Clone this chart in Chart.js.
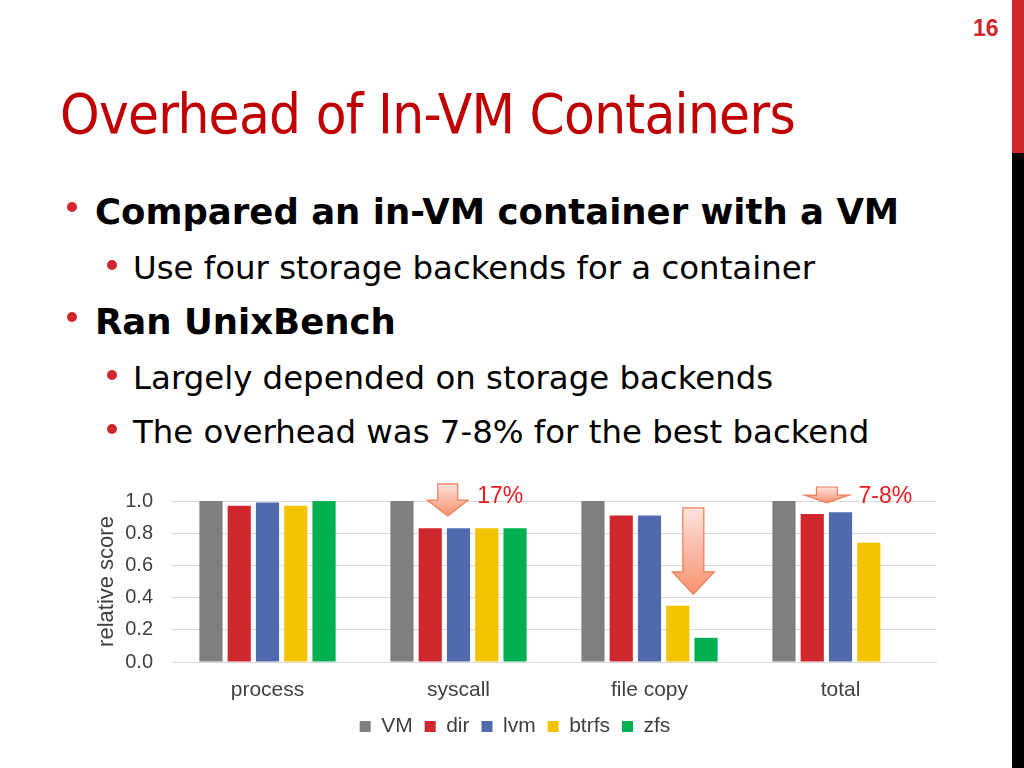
<!DOCTYPE html>
<html>
<head>
<meta charset="utf-8">
<script src="https://cdn.jsdelivr.net/npm/chart.js@4"></script>
<style>
  body { margin: 0; width: 1024px; height: 768px; background: #fff; position: relative; overflow: hidden; font-family: "DejaVu Sans", sans-serif; }
  .strip-red { position: absolute; left: 1012px; top: 0; width: 12px; height: 153px; background: #d0262d; }
  .strip-black { position: absolute; left: 1012px; top: 153px; width: 12px; height: 615px; background: #000; }
  .pagenum { position: absolute; left: 973px; top: 15px; font: bold 23px "Liberation Sans", Arial, sans-serif; color: #d0262d; }
  h1 { position: absolute; left: 60px; top: 81px; margin: 0; font-family: "DejaVu Sans Condensed", "DejaVu Sans", sans-serif; font-weight: normal; font-size: 56px; color: #c00000; white-space: nowrap; letter-spacing: -0.7px; }
  .b { position: absolute; white-space: nowrap; color: #000; }
  .l1 { left: 95px; font-size: 35.5px; font-weight: bold; }
  .l2 { left: 133px; font-size: 32.4px; }
  .dot { position: absolute; width: 10px; height: 10px; border-radius: 50%; background: #d0262d; }
  #wrap { position: absolute; left: 94px; top: 470px; width: 862px; height: 288px; }
</style>
</head>
<body>
<div class="strip-red"></div>
<div class="strip-black"></div>
<div class="pagenum">16</div>
<h1>Overhead of In-VM Containers</h1>

<div class="dot" style="left:67px;top:202px"></div>
<div class="b l1" style="top:191px">Compared an in-VM container with a VM</div>
<div class="dot" style="left:107px;top:260px"></div>
<div class="b l2" style="top:249px">Use four storage backends for a container</div>
<div class="dot" style="left:67px;top:312px"></div>
<div class="b l1" style="top:301px">Ran UnixBench</div>
<div class="dot" style="left:107px;top:370px"></div>
<div class="b l2" style="top:359px">Largely depended on storage backends</div>
<div class="dot" style="left:107px;top:424px"></div>
<div class="b l2" style="top:413px">The overhead was 7-8% for the best backend</div>

<div id="wrap"><canvas id="chart"></canvas></div>

<script>
// datos
const categories = ["process", "syscall", "file copy", "total"];
const vm    = [1.0, 1.0, 1.0, 1.0];
const dir   = [0.97, 0.83, 0.91, 0.92];
const lvm   = [0.99, 0.83, 0.91, 0.93];
const btrfs = [0.97, 0.83, 0.35, 0.74];
const zfs   = [1.0, 0.83, 0.15, null];
const yTicks = [0, 0.2, 0.4, 0.6, 0.8, 1.0];

// flechas: categoria, entre que series (t = fraccion entre a y b), valor arriba / inicio de punta / punta
const arrows = [
  { cat: 1, a: 1, b: 2, t: 0.62, top: 1.106, head: 1.006, tip: 0.907, shaft: 20, headW: 41, label: "17%" },
  { cat: 2, a: 3, b: 4, t: 0.55, top: 0.957, head: 0.56, tip: 0.42, shaft: 21, headW: 42, label: null },
  { cat: 3, a: 1, b: 2, t: 0.52, top: 1.087, head: 1.037, tip: 0.988, shaft: 21, headW: 45, label: "7-8%" }
];

const arrowPlugin = {
  id: "arrows",
  afterDatasetsDraw(chart) {
    const ctx = chart.ctx;
    const y = chart.scales.y;
    arrows.forEach(ar => {
      const xa = chart.getDatasetMeta(ar.a).data[ar.cat].x;
      const xb = chart.getDatasetMeta(ar.b).data[ar.cat].x;
      const cx = xa + (xb - xa) * ar.t;
      const yt = y.getPixelForValue(ar.top);
      const yh = y.getPixelForValue(ar.head);
      const yp = y.getPixelForValue(ar.tip);
      const g = ctx.createLinearGradient(0, yt, 0, yp);
      g.addColorStop(0, "#fde3dc");
      g.addColorStop(1, "#f7916f");
      ctx.save();
      ctx.beginPath();
      ctx.moveTo(cx - ar.shaft / 2, yt);
      ctx.lineTo(cx + ar.shaft / 2, yt);
      ctx.lineTo(cx + ar.shaft / 2, yh);
      ctx.lineTo(cx + ar.headW / 2, yh);
      ctx.lineTo(cx, yp);
      ctx.lineTo(cx - ar.headW / 2, yh);
      ctx.lineTo(cx - ar.shaft / 2, yh);
      ctx.closePath();
      ctx.fillStyle = g;
      ctx.fill();
      ctx.strokeStyle = "#ed7d52";
      ctx.lineWidth = 1.2;
      ctx.stroke();
      if (ar.label) {
        ctx.fillStyle = "#f0191e";
        ctx.font = '23px "Liberation Sans", Arial, sans-serif';
        ctx.textBaseline = "middle";
        ctx.textAlign = "left";
        ctx.fillText(ar.label, cx + ar.headW / 2 + 9, y.getPixelForValue(1.03));
      }
      ctx.restore();
    });
  }
};

Chart.defaults.font.family = '"Liberation Sans", Arial, sans-serif';
Chart.defaults.font.size = 20;
Chart.defaults.color = "#404040";

new Chart(document.getElementById("chart"), {
  type: "bar",
  data: {
    labels: categories,
    datasets: [
      { label: "VM", data: vm, backgroundColor: "#7f7f7f" },
      { label: "dir", data: dir, backgroundColor: "#d0262d" },
      { label: "lvm", data: lvm, backgroundColor: "#506aae" },
      { label: "btrfs", data: btrfs, backgroundColor: "#f3c300" },
      { label: "zfs", data: zfs, backgroundColor: "#00b050" }
    ]
  },
  options: {
    responsive: true,
    maintainAspectRatio: false,
    animation: false,
    categoryPercentage: 0.74,
    barPercentage: 0.82,
    layout: { padding: { top: 27, right: 20, bottom: 11, left: 0 } },
    plugins: {
      legend: {
        position: "bottom",
        labels: { boxWidth: 11, boxHeight: 11, padding: 12, color: "#404040", font: { size: 21 } }
      },
      tooltip: { enabled: false }
    },
    scales: {
      x: {
        grid: { display: false, drawTicks: false },
        border: { color: "#d9d9d9" },
        ticks: { color: "#404040", padding: 11, font: { size: 21, lineHeight: 1.6 } },
        afterFit(axis) { axis.height = 42; }
      },
      y: {
        min: 0,
        max: 1.0,
        afterBuildTicks(axis) { axis.ticks = yTicks.map(v => ({ value: v })); },
        ticks: { callback: v => v.toFixed(1), padding: 19, color: "#404040" },
        grid: { color: "#d9d9d9", drawTicks: false },
        border: { display: false },
        title: { display: true, text: "relative score", color: "#404040", font: { size: 22 }, padding: { top: 0, bottom: 5 } },
        afterFit(axis) { axis.width = 78; }
      }
    }
  },
  plugins: [arrowPlugin]
});
</script>
</body>
</html>
